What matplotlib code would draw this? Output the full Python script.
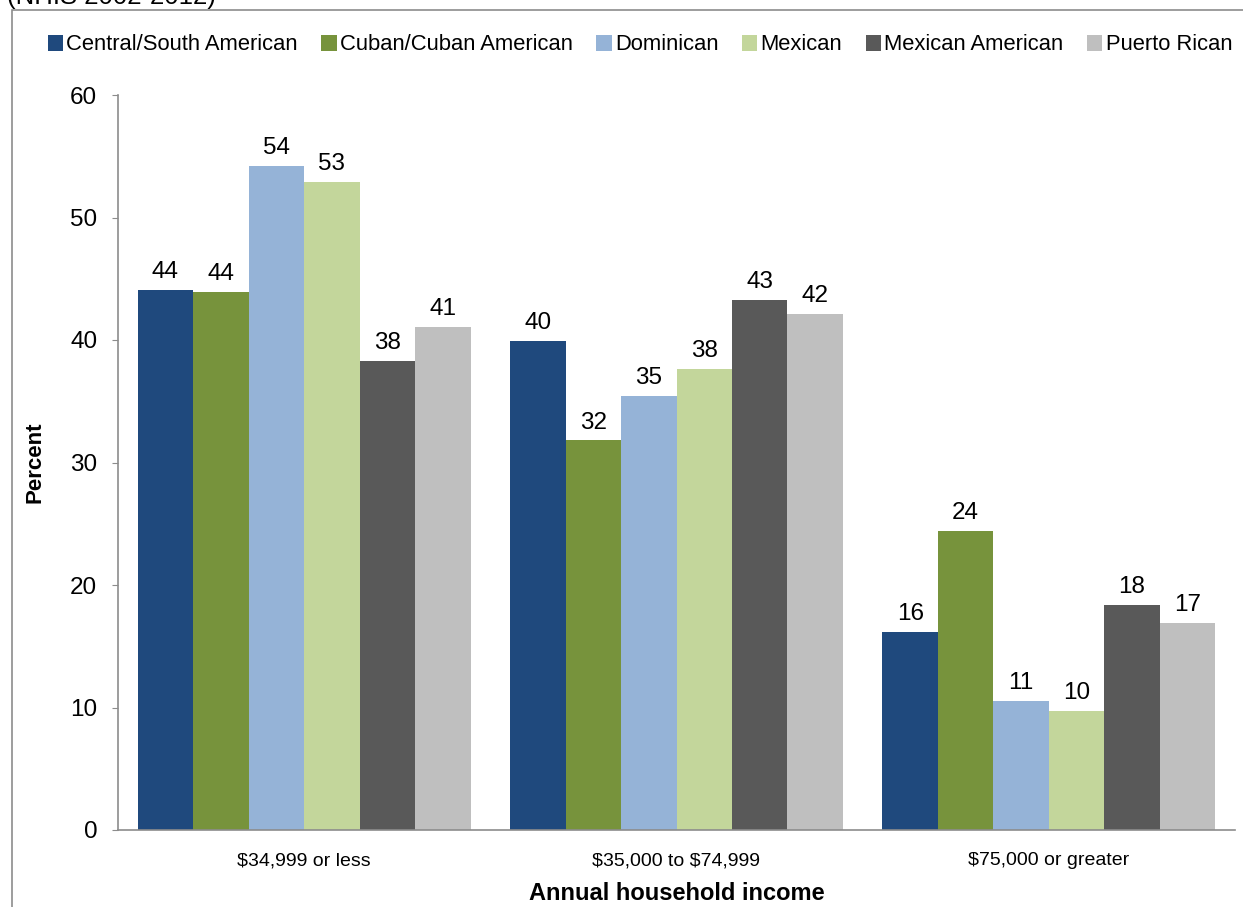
import numpy as np
import matplotlib
matplotlib.use('Agg')
import matplotlib.pyplot as plt
from matplotlib.patches import Rectangle

plt.rcParams['font.family'] = ['Liberation Sans', 'DejaVu Sans']

CATEGORIES = ['\\$34,999 or less', '\\$35,000 to \\$74,999', '\\$75,000 or greater']
GROUPS = ['Central/South American', 'Cuban/Cuban American', 'Dominican',
          'Mexican', 'Mexican American', 'Puerto Rican']
COLORS = ['#1F497D', '#77933C', '#95B3D7', '#C3D69B', '#595959', '#BFBFBF']

central_south = [44.1, 39.9, 16.2]
cuban = [43.9, 31.8, 24.4]
dominican = [54.2, 35.4, 10.5]
mexican = [52.9, 37.6, 9.7]
mexican_american = [38.3, 43.3, 18.4]
puerto_rican = [41.1, 42.1, 16.9]
SERIES = [central_south, cuban, dominican, mexican, mexican_american, puerto_rican]

W, H = 1243, 907
fig = plt.figure(figsize=(W / 100, H / 100), dpi=100)
ax = fig.add_axes([118 / W, 1 - 830 / H, (1235 - 118) / W, (830 - 95) / H])

# outer chart frame, partly cropped
fig.patches.append(Rectangle((12 / W, -0.1), 1.2, 1 - 10 / H + 0.1,
                             transform=fig.transFigure, fill=False,
                             edgecolor='#8c8c8c', linewidth=1.2))
fig.text(7 / W, 1 - 4 / H, '(NHIS 2002-2012)', fontsize=18.5, va='baseline',
         ha='left', color='black')

x = np.arange(len(CATEGORIES))
bar_w = 0.149
for i, (name, vals, col) in enumerate(zip(GROUPS, SERIES, COLORS)):
    pos = x + (i - 2.5) * bar_w
    bars = ax.bar(pos, vals, bar_w, color=col, label=name, linewidth=0)
    for b, v in zip(bars, vals):
        ax.annotate(str(int(v + 0.5)), (b.get_x() + b.get_width() / 2, v),
                    xytext=(0, 5), textcoords='offset points',
                    ha='center', va='bottom', fontsize=17.5)

ax.set_xlim(-0.5, 2.5)
ax.set_ylim(0, 60)
ax.set_yticks(range(0, 61, 10))
ax.set_xticks(x)
ax.set_xticklabels(CATEGORIES, fontsize=14)
ax.tick_params(axis='x', length=0, pad=16)
ax.tick_params(axis='y', length=4.5, color='#8c8c8c', labelsize=17.5, pad=10.5)
for s in ['top', 'right']:
    ax.spines[s].set_visible(False)
for s in ['left', 'bottom']:
    ax.spines[s].set_color('#8c8c8c')
    ax.spines[s].set_linewidth(1.2)

ax.set_ylabel('Percent', fontsize=16, fontweight='bold')
ax.yaxis.set_label_coords(-(118 - 35) / (1235 - 118), 0.5)
ax.set_xlabel('Annual household income', fontsize=17, fontweight='bold')
ax.xaxis.set_label_coords(0.5, -(893 - 830) / (830 - 95))
ax.xaxis.label.set_va('center')
ax.yaxis.label.set_va('center')

fig.legend(loc='center', bbox_to_anchor=(640 / W, 1 - 45 / H), ncol=6,
           frameon=False, fontsize=15.8, handlelength=0.7, handleheight=0.7,
           handletextpad=0.15, columnspacing=1.07, borderaxespad=0)

fig.savefig('out.png', dpi=100)
